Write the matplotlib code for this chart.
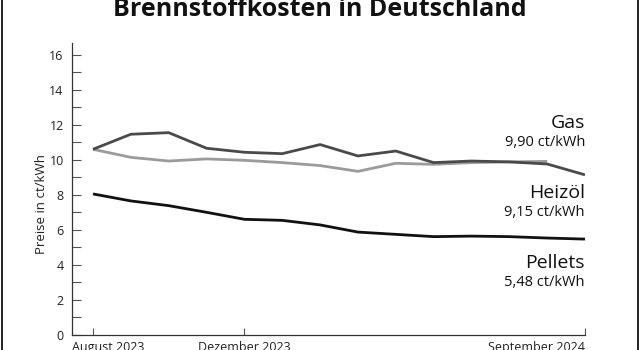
import matplotlib
matplotlib.use("Agg")
import matplotlib.pyplot as plt
import matplotlib.transforms as mtransforms
from matplotlib.patches import Rectangle

# monthly prices, August 2023 .. September 2024 (ct/kWh)
months = ["Aug 23", "Sep 23", "Okt 23", "Nov 23", "Dez 23", "Jan 24", "Feb 24",
          "Mär 24", "Apr 24", "Mai 24", "Jun 24", "Jul 24", "Aug 24", "Sep 24"]
heizoel = [10.61, 11.47, 11.56, 10.67, 10.44, 10.36, 10.88, 10.23, 10.51, 9.85,
           9.94, 9.89, 9.77, 9.15]
gas = [10.61, 10.15, 9.94, 10.06, 9.98, 9.85, 9.68, 9.35, 9.81, 9.75, 9.85,
       9.89, 9.92]
pellets = [8.06, 7.66, 7.39, 7.01, 6.61, 6.55, 6.29, 5.88, 5.75, 5.62, 5.65,
           5.62, 5.54, 5.48]

tickIdx = [0, 4, 13]
tickLabels = ["August 2023", "Dezember 2023", "September 2024"]

endLabels = [("Gas", "9,90 ct/kWh", 12.1),
             ("Heizöl", "9,15 ct/kWh", 8.1),
             ("Pellets", "5,48 ct/kWh", 4.1)]

plt.rcParams["font.family"] = ["Open Sans", "DejaVu Sans"]

fig = plt.figure(figsize=(6.4, 3.5), dpi=100)
ax = fig.add_axes([72 / 640, 15 / 350, 513 / 640, 292.3 / 350])

ax.plot(range(len(gas)), gas, color="#9b9b9b", lw=2.0, solid_capstyle="butt")
ax.plot(range(len(heizoel)), heizoel, color="#4a4a4a", lw=2.0, solid_capstyle="butt")
ax.plot(range(len(pellets)), pellets, color="#111111", lw=2.0, solid_capstyle="butt")

ax.set_xlim(-0.555, 13)
ax.set_ylim(0, 16.7)

ax.spines["top"].set_visible(False)
ax.spines["right"].set_visible(False)
for s in ["left", "bottom"]:
    ax.spines[s].set_color("#333333")
    ax.spines[s].set_linewidth(0.9)

ax.set_yticks(range(0, 17, 2))
ax.set_yticks(range(1, 17, 2), minor=True)
ax.tick_params(axis="y", which="both", direction="in", length=6.5, width=0.8,
               color="#555555", labelsize=9, pad=6, labelcolor="#222222")
ax.set_xticks(tickIdx)
ax.set_xticklabels(tickLabels)
ax.tick_params(axis="x", direction="in", length=5, width=0.8, color="#555555",
               labelsize=9, pad=4, labelcolor="#222222")
labs = ax.get_xticklabels()
labs[0].set_horizontalalignment("left")
labs[0].set_transform(labs[0].get_transform() +
                      mtransforms.ScaledTranslation(-0.215, 0, fig.dpi_scale_trans))
labs[-1].set_horizontalalignment("right")

ax.set_ylabel("Preise in ct/kWh", fontsize=9.5, color="#222222")
ax.yaxis.set_label_coords(-0.047, 7.5 / 16.7)

for name, value, y in endLabels:
    ax.text(13, y, name, ha="right", va="center", fontsize=14, color="#111111",
            clip_on=False)
    ax.text(13, y - 1.1, value, ha="right", va="center", fontsize=10.5,
            color="#111111", clip_on=False)

fig.text(0.5, 1 - 15.5 / 350, "Brennstoffkosten in Deutschland", ha="center",
         va="baseline", fontsize=18, fontweight="bold", color="#111111")

fig.add_artist(Rectangle((2 / 640, -0.1), 636 / 640, 1.3, fill=False, lw=1.3,
                         edgecolor="#111111", transform=fig.transFigure))

fig.savefig("out.png", dpi=100)
